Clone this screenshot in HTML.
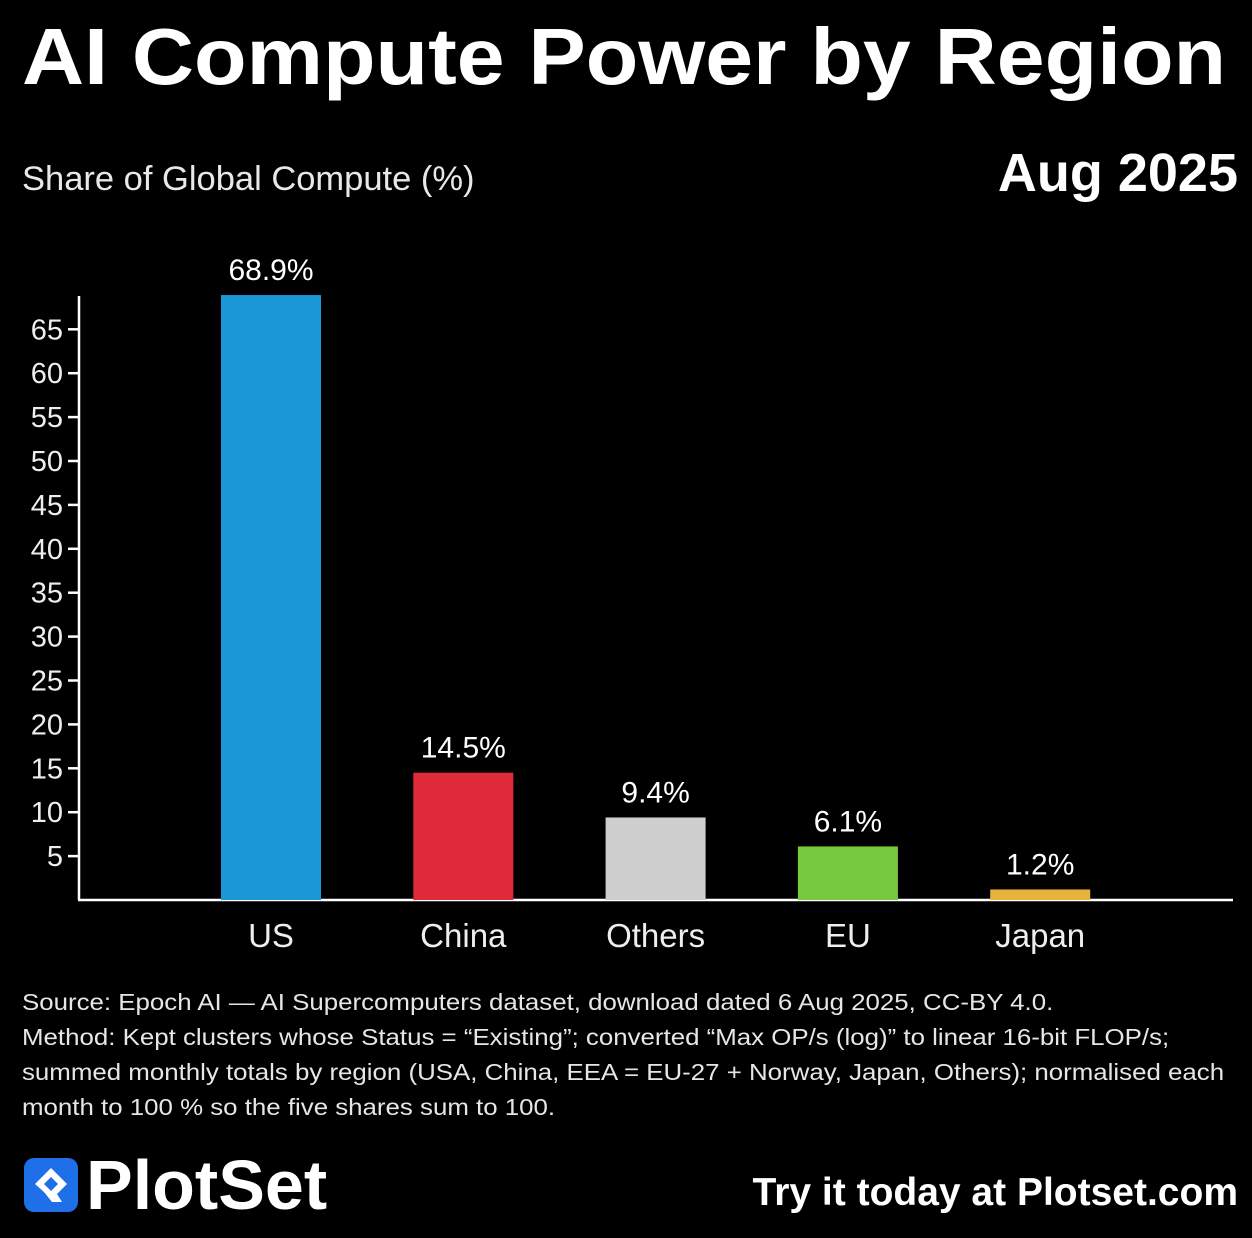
<!DOCTYPE html>
<html><head><meta charset="utf-8"><style>
body{margin:0;background:#000;width:1252px;height:1238px;overflow:hidden;font-family:"Liberation Sans",sans-serif;color:#fff;position:relative}
.abs{position:absolute;margin:0}
</style></head><body>
<h1 class="abs" style="left:22px;top:12px;font-size:80px;font-weight:bold;line-height:90px;white-space:nowrap;transform-origin:0 0;transform:scaleX(1.075)">AI Compute Power by Region</h1>
<div class="abs" style="left:22px;top:160px;font-size:34.5px;color:#e8e8e8">Share of Global Compute (%)</div>
<div class="abs" style="right:14px;top:142px;font-size:54px;font-weight:bold">Aug 2025</div>
<svg class="abs" style="left:0;top:0" width="1252" height="980" id="chart"></svg>
<div class="abs" style="left:22px;top:985px;font-size:23.5px;line-height:35px;color:#e6e6e6;width:1110px;white-space:nowrap;transform-origin:0 0;transform:scaleX(1.1)">Source: Epoch AI — AI Supercomputers dataset, download dated 6 Aug 2025, CC-BY 4.0.<br>Method: Kept clusters whose Status = “Existing”; converted “Max OP/s (log)” to linear 16-bit FLOP/s;<br>summed monthly totals by region (USA, China, EEA = EU-27 + Norway, Japan, Others); normalised each<br>month to 100 % so the five shares sum to 100.</div>
<div class="abs" style="left:24px;top:1155px;display:flex;align-items:center">
<svg width="54" height="54"><rect width="54" height="54" rx="10" fill="#1f6fe8"/><path d="M27 10 L43 26 L33 36 L38 44 L28 44 L20 34 L11 26 Z" fill="#fff"/><path d="M27 19 L34 26 L27 33 L20 26 Z" fill="#1f6fe8"/></svg>
<span style="font-size:70px;font-weight:bold;margin-left:8px;line-height:60px">PlotSet</span></div>
<div class="abs" style="right:14px;top:1171px;font-size:39px;font-weight:bold">Try it today at Plotset.com</div>
<script>
const categories=["US","China","Others","EU","Japan"];
const values=[68.9,14.5,9.4,6.1,1.2];
const valueLabels=["68.9%","14.5%","9.4%","6.1%","1.2%"];
const colors=["#1b96d6","#e02a3a","#cfcfcf","#77c93f","#e8b33c"];
const yTicks=[5,10,15,20,25,30,35,40,45,50,55,60,65];
const svg=document.getElementById('chart');
const NS="http://www.w3.org/2000/svg";
const y=v=>900-v*8.78;
const x=i=>271+i*192.3;
function mk(t,a){const e=document.createElementNS(NS,t);for(const k in a)e.setAttribute(k,a[k]);svg.appendChild(e);return e;}
let ax=mk('line',{x1:79,y1:296,x2:79,y2:900,stroke:'#fff','stroke-width':2.5});


let xa=mk('line',{x1:78,y1:900,x2:1233,y2:900,stroke:'#fff','stroke-width':2.5});


yTicks.forEach(t=>{
 let l=mk('line',{x1:68,y1:y(t),x2:79,y2:y(t),stroke:'#fff','stroke-width':2.5});
 
 
 let tx=mk('text',{x:63,y:y(t)+10,'text-anchor':'end',fill:'#eee','font-size':29,'font-family':'Liberation Sans, sans-serif'});
 tx.textContent=t;
 
 
});
categories.forEach((c,i)=>{
 let r=mk('rect',{x:x(i)-50,y:y(values[i]),width:100,height:900-y(values[i]),fill:colors[i]});
 
 
 let v=mk('text',{x:x(i),y:y(values[i])-15,'text-anchor':'middle',fill:'#fff','font-size':30,'font-family':'Liberation Sans, sans-serif'});
 v.textContent=valueLabels[i];
 
 
 let cl=mk('text',{x:x(i),y:947,'text-anchor':'middle',fill:'#eee','font-size':33,'font-family':'Liberation Sans, sans-serif'});
 cl.textContent=c;
 
 
});
</script>
</body></html>
